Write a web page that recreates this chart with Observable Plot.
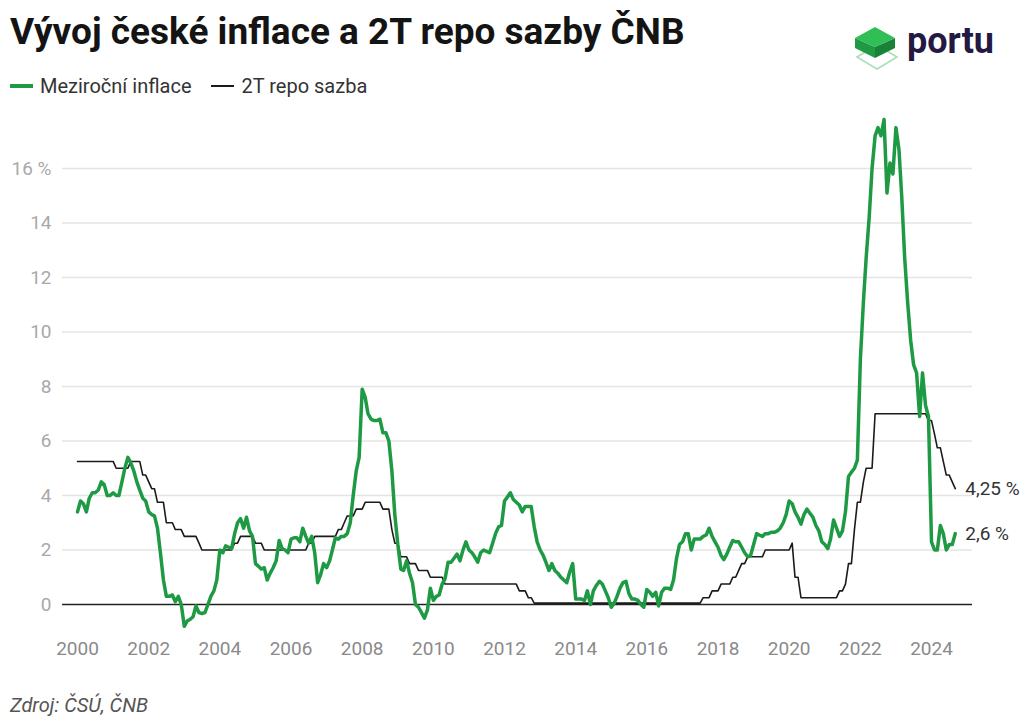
<!DOCTYPE html>
<html><head><meta charset="utf-8">
<script src="https://cdn.jsdelivr.net/npm/d3@7"></script>
<script src="https://cdn.jsdelivr.net/npm/@observablehq/plot@0.6"></script>
<style>
body{margin:0;background:#fff;font-family:Roboto,"Noto Sans",sans-serif;}
#wrap{position:relative;width:1024px;height:723px;overflow:hidden;background:#fff;}
#title{position:absolute;left:10px;top:13px;font-size:37px;line-height:1;font-weight:700;color:#141414;white-space:nowrap;}
#legend{position:absolute;left:10px;top:76px;font-size:20px;line-height:1;color:#333;display:flex;align-items:center;white-space:nowrap;}
.sw{display:inline-block;width:23px;margin-right:7px;}
#chart{position:absolute;left:0;top:105px;}
#caption{position:absolute;left:10px;top:695px;font-size:20px;line-height:1;font-style:italic;color:#555;}
#logo{position:absolute;left:850px;top:18px;}
</style></head>
<body>
<div id="wrap">
  <div id="title">Vývoj české inflace a 2T repo sazby ČNB</div>
  <svg id="logo" width="170" height="60" viewBox="850 18 170 60">
    <polygon points="857,57 877,45 897,57 877,69" fill="none" stroke="#a8e0b8" stroke-width="1.6"/>
    <polygon points="855,38 875,47 875,58 855,48" fill="#1f9a44"/>
    <polygon points="875,47 895,38 895,48 875,58" fill="#178238"/>
    <polygon points="855,38 875,27 895,38 875,47" fill="#2fbf55"/>
    <text x="907" y="53" font-family="Roboto, sans-serif" font-weight="700" font-size="36" fill="#231942">portu</text>
  </svg>
  <div id="legend">
    <span class="sw" style="height:4px;background:#1f9a44"></span><span>Meziroční inflace</span>
    <span class="sw" style="height:2px;background:#1b1b1b;margin-left:20px"></span><span>2T repo sazba</span>
  </div>
  <div id="chart"></div>
  <div id="caption">Zdroj: ČSÚ, ČNB</div>
</div>
<script>
// Monthly values, January 2000 – September 2024
const startYear = 2000;
const inflace = [
  3.4, 3.8, 3.7, 3.4, 3.9, 4.1, 4.1, 4.2, 4.5, 4.4, 4.0, 4.0,   // 2000
  4.1, 4.0, 4.0, 4.5, 5.0, 5.4, 5.2, 4.9, 4.5, 4.2, 3.9, 3.8,   // 2001
  3.4, 3.3, 3.25, 2.8, 1.9, 0.9, 0.3, 0.3, 0.35, 0.1, 0.3, 0.0, // 2002
  -0.8, -0.6, -0.55, -0.45, -0.05, -0.3, -0.33, -0.3, 0.0, 0.3, 0.5, 0.9, // 2003
  2.0, 1.9, 2.15, 2.1, 2.05, 2.6, 3.0, 3.15, 2.8, 3.2, 2.7, 2.5, // 2004
  1.5, 1.4, 1.3, 1.35, 0.9, 1.15, 1.35, 1.6, 2.35, 2.05, 2.0, 1.9, // 2005
  2.4, 2.45, 2.45, 2.3, 2.8, 2.5, 2.25, 2.5, 1.9, 0.8, 1.1, 1.5, // 2006
  1.35, 1.6, 2.0, 2.45, 2.4, 2.5, 2.5, 2.6, 3.0, 4.0, 4.9, 5.4, // 2007
  7.9, 7.6, 7.0, 6.8, 6.75, 6.75, 6.8, 6.3, 6.3, 6.0, 4.9, 3.3, // 2008
  2.2, 1.3, 1.25, 1.6, 1.15, 0.8, 0.0, -0.1, -0.3, -0.5, -0.2, 0.6, // 2009
  0.15, 0.3, 0.35, 0.75, 0.95, 1.55, 1.55, 1.7, 1.85, 1.6, 2.0, 2.3, // 2010
  2.0, 1.9, 1.75, 1.55, 1.9, 2.0, 1.95, 1.9, 2.25, 2.6, 2.85, 2.9, // 2011
  3.8, 3.95, 4.1, 3.85, 3.75, 3.65, 3.4, 3.6, 3.6, 3.6, 2.85, 2.3, // 2012
  2.0, 1.8, 1.55, 1.25, 1.5, 1.25, 1.15, 1.0, 0.9, 0.8, 1.2, 1.5, // 2013
  0.2, 0.2, 0.2, 0.15, 0.5, 0.0, 0.5, 0.7, 0.85, 0.75, 0.5, 0.25, // 2014
  -0.1, 0.05, 0.3, 0.6, 0.8, 0.85, 0.4, 0.2, 0.2, 0.15, 0.0, -0.1, // 2015
  0.55, 0.45, 0.3, 0.45, -0.05, 0.45, 0.6, 0.6, 0.55, 0.9, 1.7, 2.2, // 2016
  2.3, 2.6, 2.6, 2.0, 2.4, 2.4, 2.4, 2.5, 2.55, 2.8, 2.5, 2.3, // 2017
  2.1, 1.8, 1.65, 1.85, 2.1, 2.35, 2.3, 2.3, 2.1, 1.9, 1.75, 1.8, // 2018
  2.2, 2.6, 2.55, 2.5, 2.6, 2.6, 2.65, 2.65, 2.7, 2.8, 3.0, 3.3, // 2019
  3.8, 3.7, 3.4, 3.2, 2.95, 3.3, 3.5, 3.35, 3.2, 2.9, 2.7, 2.3, // 2020
  2.2, 2.05, 2.4, 3.1, 2.8, 2.5, 2.7, 3.4, 4.7, 4.85, 5.0, 5.3, // 2021
  9.0, 11.1, 12.7, 14.2, 16.0, 17.2, 17.5, 17.2, 17.8, 15.1, 16.2, 15.8, // 2022
  17.5, 16.7, 15.0, 12.7, 11.1, 9.7, 8.8, 8.5, 6.9, 8.5, 7.3, 6.9, // 2023
  2.3, 2.0, 2.0, 2.9, 2.6, 2.0, 2.2, 2.2, 2.6                      // 2024
];
const repo = [
  5.25, 5.25, 5.25, 5.25, 5.25, 5.25, 5.25, 5.25, 5.25, 5.25, 5.25, 5.25, // 2000
  5.25, 5.0, 5.0, 5.0, 5.0, 5.0, 5.25, 5.25, 5.25, 5.25, 4.75, 4.75,       // 2001
  4.5, 4.25, 4.25, 3.75, 3.75, 3.75, 3.0, 3.0, 3.0, 2.75, 2.75, 2.75,      // 2002
  2.5, 2.5, 2.5, 2.5, 2.5, 2.25, 2.0, 2.0, 2.0, 2.0, 2.0, 2.0,             // 2003
  2.0, 2.0, 2.0, 2.0, 2.0, 2.25, 2.25, 2.5, 2.5, 2.5, 2.5, 2.5,            // 2004
  2.25, 2.25, 2.25, 2.0, 2.0, 2.0, 2.0, 2.0, 2.0, 2.0, 2.0, 2.0,           // 2005
  2.0, 2.0, 2.0, 2.0, 2.0, 2.0, 2.25, 2.25, 2.5, 2.5, 2.5, 2.5,            // 2006
  2.5, 2.5, 2.5, 2.5, 2.75, 2.75, 3.0, 3.25, 3.25, 3.25, 3.5, 3.5,         // 2007
  3.5, 3.75, 3.75, 3.75, 3.75, 3.75, 3.75, 3.5, 3.5, 3.5, 2.75, 2.25,      // 2008
  2.25, 1.75, 1.75, 1.75, 1.5, 1.5, 1.5, 1.25, 1.25, 1.25, 1.25, 1.0,      // 2009
  1.0, 1.0, 1.0, 1.0, 0.75, 0.75, 0.75, 0.75, 0.75, 0.75, 0.75, 0.75,      // 2010
  0.75, 0.75, 0.75, 0.75, 0.75, 0.75, 0.75, 0.75, 0.75, 0.75, 0.75, 0.75,  // 2011
  0.75, 0.75, 0.75, 0.75, 0.75, 0.5, 0.5, 0.5, 0.25, 0.25, 0.05, 0.05,     // 2012
  0.05, 0.05, 0.05, 0.05, 0.05, 0.05, 0.05, 0.05, 0.05, 0.05, 0.05, 0.05,  // 2013
  0.05, 0.05, 0.05, 0.05, 0.05, 0.05, 0.05, 0.05, 0.05, 0.05, 0.05, 0.05,  // 2014
  0.05, 0.05, 0.05, 0.05, 0.05, 0.05, 0.05, 0.05, 0.05, 0.05, 0.05, 0.05,  // 2015
  0.05, 0.05, 0.05, 0.05, 0.05, 0.05, 0.05, 0.05, 0.05, 0.05, 0.05, 0.05,  // 2016
  0.05, 0.05, 0.05, 0.05, 0.05, 0.05, 0.05, 0.25, 0.25, 0.25, 0.5, 0.5,    // 2017
  0.5, 0.75, 0.75, 0.75, 0.75, 1.0, 1.0, 1.25, 1.5, 1.5, 1.75, 1.75,       // 2018
  1.75, 1.75, 1.75, 1.75, 2.0, 2.0, 2.0, 2.0, 2.0, 2.0, 2.0, 2.0,          // 2019
  2.0, 2.25, 1.0, 1.0, 0.25, 0.25, 0.25, 0.25, 0.25, 0.25, 0.25, 0.25,     // 2020
  0.25, 0.25, 0.25, 0.25, 0.25, 0.5, 0.5, 0.75, 1.5, 1.5, 2.75, 3.75,      // 2021
  3.75, 4.5, 5.0, 5.0, 5.0, 7.0, 7.0, 7.0, 7.0, 7.0, 7.0, 7.0,             // 2022
  7.0, 7.0, 7.0, 7.0, 7.0, 7.0, 7.0, 7.0, 7.0, 7.0, 7.0, 6.75,            // 2023
  6.75, 6.25, 5.75, 5.75, 5.25, 4.75, 4.75, 4.5, 4.25                      // 2024
];
const xTickYears = [2000, 2002, 2004, 2006, 2008, 2010, 2012, 2014, 2016, 2018, 2020, 2022, 2024];
const yTicks = [0, 2, 4, 6, 8, 10, 12, 14, 16];
const gridValues = [2, 4, 6, 8, 10, 12, 14, 16];

const monthDate = i => new Date(Date.UTC(startYear, i, 1));
const dataI = inflace.map((v, i) => ({date: monthDate(i), v}));
const dataR = repo.map((v, i) => ({date: monthDate(i), v}));
const fmt = v => String(v).replace(".", ",") + " %";

const chart = Plot.plot({
  width: 1024,
  height: 566,
  marginLeft: 62,
  marginRight: 52,
  marginTop: 8.5,
  marginBottom: 39.75,
  style: {fontFamily: "Roboto, sans-serif", background: "transparent", overflow: "visible"},
  x: {type: "utc", domain: [new Date(Date.UTC(2000, 0, 1)), new Date(Date.UTC(2024, 0, 1))], range: [77, 931], label: null},
  y: {domain: [-1, 18], range: [526.25, 8.5], label: null},
  marks: [
    Plot.ruleY(gridValues, {stroke: "#e4e4e4", strokeWidth: 1.3}),
    Plot.ruleY([0], {stroke: "#222", strokeWidth: 1.5}),
    Plot.axisY(yTicks, {anchor: "left", label: null, tickSize: 0, tickPadding: 11, fontSize: 19, fill: "#a9a9a9",
      tickFormat: d => d === 16 ? "16 %" : String(d)}),
    Plot.axisX(xTickYears.map(y => new Date(Date.UTC(y, 0, 1))), {anchor: "bottom", label: null, tickSize: 0, tickPadding: 10,
      fontSize: 19, fill: "#8a8a8a", tickFormat: d => String(d.getUTCFullYear())}),
    Plot.line(dataR, {x: "date", y: "v", stroke: "#1b1b1b", strokeWidth: 1.6}),
    Plot.line(dataI, {x: "date", y: "v", stroke: "#1f9a44", strokeWidth: 3.5}),
    Plot.text([dataR[dataR.length - 1]], {x: "date", y: "v", text: d => fmt(d.v), dx: 10, textAnchor: "start", fontSize: 19, fill: "#333"}),
    Plot.text([dataI[dataI.length - 1]], {x: "date", y: "v", text: d => fmt(d.v), dx: 10, textAnchor: "start", fontSize: 19, fill: "#333"})
  ]
});
document.getElementById("chart").appendChild(chart);
</script>
</body></html>
